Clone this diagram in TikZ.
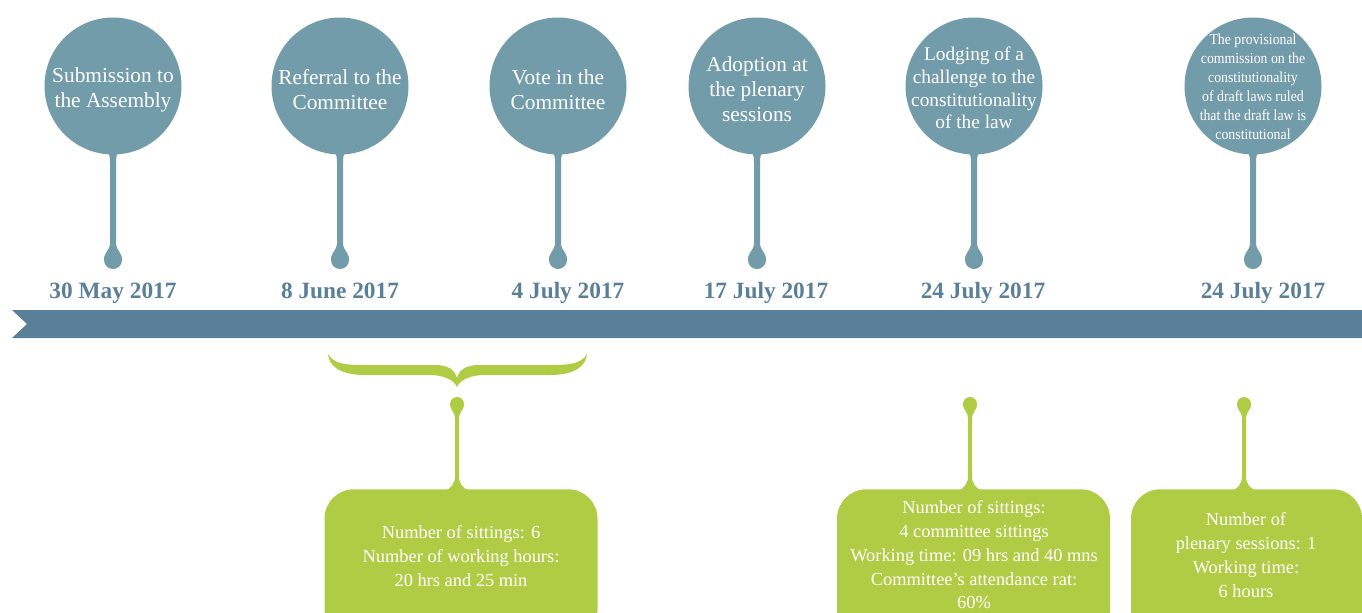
\documentclass[tikz,border=0pt]{standalone}
\usepackage{fontspec}
\setmainfont{Liberation Serif}
\newfontfamily\narrowserif{Liberation Serif}[FakeStretch=0.9]
\definecolor{circblue}{HTML}{739CAA}
\definecolor{bandblue}{HTML}{5A8099}
\definecolor{leaf}{HTML}{B0CC45}
\begin{document}
\begin{tikzpicture}[x=0.75pt,y=-0.75pt,
  bubble/.style={circle, fill=circblue, minimum size=102.75pt, inner sep=0pt},
  bubbletext/.style={text=white, align=center, inner sep=0pt, font=\fontsize{16}{18.75}\selectfont},
  datelabel/.style={text=bandblue, anchor=base, font=\fontsize{17.5}{20}\selectfont\bfseries},
  infobox/.style={fill=leaf, rounded corners=22pt, minimum height=112.5pt, anchor=north, inner sep=0pt},
  infotext/.style={text=white, align=center, font=\fontsize{13.8}{18}\selectfont}]
\path[use as bounding box] (0,0) rectangle (1362,612);
\clip (0,0) rectangle (1362,612);

% timeline band
\fill[bandblue] (12,310) -- (1362,310) -- (1362,338) -- (12,338) -- (27,324) -- cycle;

% blue pins
\foreach \i/\x in {1/113,2/340,3/558,4/757,5/974,6/1253} {
  \coordinate (p\i) at (\x,260);
  \fill[circblue, shift={(p\i)}] (-7,-110) .. controls (-3,-106) and (-3,-102) .. (-3,-96) -- (-3,-16) .. controls (-3,-10) and (-9,-8) .. (-9,0) -- (9,0) .. controls (9,-8) and (3,-10) .. (3,-16) -- (3,-96) .. controls (3,-102) and (3,-106) .. (7,-110) -- cycle;
  \fill[circblue] (p\i) circle[radius=6.75pt];
}

% circles
\foreach \i/\x in {1/113,2/340,3/558,4/757,5/974,6/1253} {
  \node[bubble] (c\i) at (\x,86) {};
}
\node[bubbletext] (c1t) at (113,90) {Submission to\\the Assembly};
\node[bubbletext] (c2t) at (340,90) {Referral to the\\Committee};
\node[bubbletext] (c3t) at (558,90) {Vote in the\\Committee};
\node[bubbletext] (c4t) at (757,89) {Adoption at\\the plenary\\sessions};
\node[bubbletext, font=\fontsize{14.5}{17}\selectfont] (c5t) at (974,88) {Lodging of a\\challenge to the\\constitutionality\\of the law};
\node[bubbletext, font=\narrowserif\fontsize{11.5}{14.25}\selectfont] (c6t) at (1253,87) {The provisional\\commission on the\\constitutionality\\of draft laws ruled\\that the draft law is\\constitutional};

% dates
\node[datelabel] (d1) at (113,298) {30 May 2017};
\node[datelabel] (d2) at (340,298) {8 June 2017};
\node[datelabel] (d3) at (568,298) {4 July 2017};
\node[datelabel] (d4) at (766,298) {17 July 2017};
\node[datelabel] (d5) at (983,298) {24 July 2017};
\node[datelabel] (d6) at (1263,298) {24 July 2017};

% brace
\fill[leaf] (328,354) .. controls (334,364) and (345,365) .. (365,365) -- (435,365) .. controls (448,365) and (455,370) .. (457,378) .. controls (459,370) and (466,365) .. (479,365) -- (550,365) .. controls (570,365) and (581,364) .. (587,354) .. controls (586,366) and (575,375) .. (550,375) -- (485,375) .. controls (470,375) and (460,380) .. (457,387) .. controls (454,380) and (444,375) .. (429,375) -- (365,375) .. controls (340,375) and (329,366) .. (328,354) -- cycle;

% green pins
\foreach \i/\x in {1/457,2/970,3/1244} {
  \coordinate (g\i) at (\x,404);
  \fill[leaf, shift={(g\i)}] (-7,0) .. controls (-7,6) and (-2,8) .. (-2,14) -- (-2,72) .. controls (-2,80) and (-6,84) .. (-12,87) -- (12,87) .. controls (6,84) and (2,80) .. (2,72) -- (2,14) .. controls (2,8) and (7,6) .. (7,0) -- cycle;
  \fill[leaf] (g\i) circle[radius=5.25pt];
}

% boxes
\node[infobox, minimum width=204.75pt] (box1) at (461,489) {};
\node[infobox, minimum width=204.75pt] (box2) at (973.5,489) {};
\node[infobox, minimum width=173.25pt] (box3) at (1246.5,489) {};

\node[infotext] (t1) at (461,556) {Number of sittings: 6\\Number of working hours:\\20 hrs and 25 min};
\node[infotext, font=\fontsize{13.8}{17.8}\selectfont] (t2) at (974,555) {Number of sittings:\\4 committee sittings\\Working time: 09 hrs and 40 mns\\Committee’s attendance rat:\\60\%};
\node[infotext] (t3) at (1246,555) {Number of\\plenary sessions: 1\\Working time:\\6 hours};
\end{tikzpicture}
\end{document}
